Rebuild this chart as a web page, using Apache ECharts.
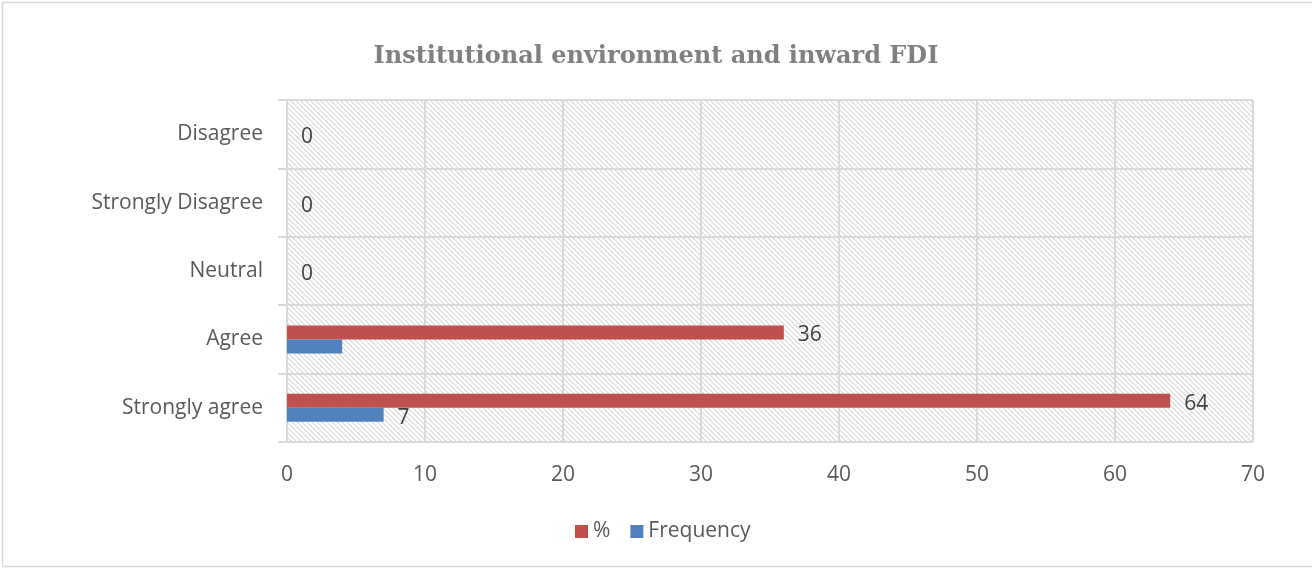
<!DOCTYPE html>
<html>
<head>
<meta charset="utf-8">
<script src="https://cdn.jsdelivr.net/npm/echarts@6/dist/echarts.min.js"></script>
<style>
    html, body { margin: 0; padding: 0; background: #fff; }
    #chart { width: 1312px; height: 569px; }
</style>
</head>
<body>
<div id="chart"></div>
<script>
// data, bottom to top as in the picture
const categories = ['Strongly agree', 'Agree', 'Neutral', 'Strongly Disagree', 'Disagree'];
const percentValues = [64, 36, 0, 0, 0];
const frequencyValues = [7, 4, 0, 0, 0];
const frequencyLabelShown = [true, false, false, false, false];
const xTicks = [0, 10, 20, 30, 40, 50, 60, 70];

// hatched plot background
function hatch() {
    let c = document.createElement('canvas');
    c.width = 5; c.height = 5;
    let ctx = c.getContext('2d');
    ctx.fillStyle = '#ffffff';
    ctx.fillRect(0, 0, 5, 5);
    ctx.strokeStyle = '#d6d6d6';
    ctx.lineWidth = 1.1;
    ctx.beginPath();
    ctx.moveTo(-1, -1); ctx.lineTo(6, 6);
    ctx.moveTo(-4, 1); ctx.lineTo(1, 6);
    ctx.moveTo(1, -4); ctx.lineTo(6, 1);
    ctx.stroke();
    return c;
}

const font = '"Open Sans", sans-serif';
const labelStyle = {
    show: true,
    position: 'right',
    distance: 14,
    fontFamily: font,
    fontSize: 21,
    color: '#404040'
};

let myChart = echarts.init(document.getElementById('chart'));
myChart.setOption({
    animation: false,
    title: {
        text: 'Institutional environment and inward FDI',
        left: 'center',
        top: 40,
        textStyle: {
            fontFamily: '"DejaVu Serif", serif',
            fontWeight: 'bold',
            fontSize: 24,
            color: '#808080'
        }
    },
    legend: {
        bottom: 22,
        left: 570,
        itemWidth: 13,
        itemHeight: 13,
        itemGap: 20,
        icon: 'rect',
        textStyle: { fontFamily: font, fontSize: 21, color: '#595959' },
        data: ['%', 'Frequency']
    },
    graphic: [{
        type: 'rect',
        shape: { x: 2.5, y: 2.5, width: 1320, height: 564 },
        style: { fill: 'none', stroke: '#d9d9d9', lineWidth: 1.5 },
        silent: true
    }],
    grid: {
        left: 287,
        right: 59,
        top: 100,
        bottom: 127,
        show: true,
        borderWidth: 0,
        backgroundColor: { image: hatch(), repeat: 'repeat' }
    },
    xAxis: {
        type: 'value',
        min: xTicks[0],
        max: xTicks[xTicks.length - 1],
        interval: 10,
        axisLine: { show: false },
        axisTick: { show: false },
        splitLine: { show: true, lineStyle: { color: '#d9d9d9', width: 2 } },
        axisLabel: { fontFamily: font, fontSize: 21, color: '#595959', margin: 23 }
    },
    yAxis: {
        type: 'category',
        data: categories,
        axisLine: { show: true, lineStyle: { color: '#d9d9d9', width: 2 } },
        axisTick: { show: true, length: 9, lineStyle: { color: '#d9d9d9', width: 2 } },
        splitLine: { show: true, lineStyle: { color: '#d9d9d9', width: 2 } },
        axisLabel: { fontFamily: font, fontSize: 21, color: '#595959', margin: 24, padding: [6, 0, 0, 0] }
    },
    series: [
        {
            name: '%',
            type: 'bar',
            barWidth: 14,
            barGap: '0%',
            itemStyle: { color: '#c0504d' },
            data: percentValues.map(v => ({
                value: v,
                label: Object.assign({}, labelStyle, { offset: v === 0 ? [0, 10] : [0, 3] })
            }))
        },
        {
            name: 'Frequency',
            type: 'bar',
            barWidth: 14,
            barGap: '0%',
            itemStyle: { color: '#4f81bd' },
            data: frequencyValues.map((v, i) => ({
                value: v,
                label: Object.assign({}, labelStyle, { show: frequencyLabelShown[i], offset: [0, 3] })
            }))
        }
    ]
});
</script>
</body>
</html>
